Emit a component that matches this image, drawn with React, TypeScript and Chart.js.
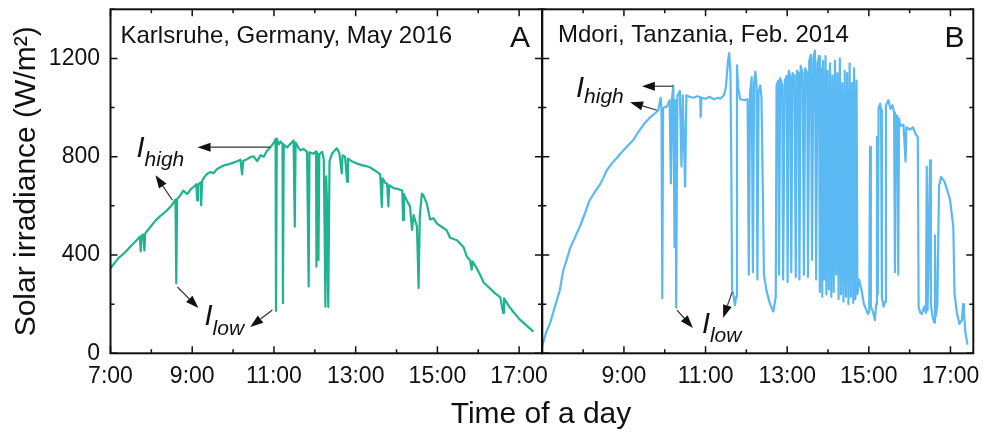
import React, { useEffect, useRef } from 'react';
import { Chart, registerables } from 'chart.js';

Chart.register(...registerables);

// Panel A – Karlsruhe, Germany, May 2016 : [hour of day, solar irradiance W/m²]
const karlsruhe: [number, number][] = [
  [7.00, 345], [7.10, 368], [7.20, 388], [7.30, 402], [7.41, 420], [7.50, 437], [7.58, 450], [7.65, 462],
  [7.72, 475], [7.74, 415], [7.76, 478], [7.80, 484], [7.83, 418], [7.85, 488], [7.98, 515], [8.10, 540],
  [8.20, 556], [8.30, 570], [8.39, 583], [8.50, 603], [8.59, 625], [8.61, 285], [8.63, 628], [8.70, 640],
  [8.78, 662], [8.88, 648], [8.95, 665], [9.05, 680], [9.10, 688], [9.12, 622], [9.14, 686], [9.20, 695],
  [9.22, 602], [9.24, 700], [9.30, 718], [9.36, 730], [9.45, 738], [9.52, 733], [9.61, 750], [9.70, 758],
  [9.80, 766], [9.90, 770], [10.01, 776], [10.10, 782], [10.18, 788], [10.22, 728], [10.25, 784], [10.34, 790],
  [10.42, 798], [10.50, 802], [10.59, 782], [10.67, 806], [10.75, 800], [10.83, 824], [10.91, 838], [11.00, 858],
  [11.04, 872], [11.05, 172], [11.07, 874], [11.12, 850], [11.16, 862], [11.21, 852], [11.22, 204], [11.24, 850],
  [11.32, 838], [11.40, 852], [11.48, 866], [11.51, 515], [11.53, 858], [11.60, 836], [11.65, 826], [11.72, 832],
  [11.81, 820], [11.85, 272], [11.87, 818], [11.97, 812], [12.03, 822], [12.04, 352], [12.06, 816], [12.09, 380],
  [12.11, 810], [12.18, 820], [12.22, 790], [12.26, 190], [12.28, 720], [12.30, 600], [12.33, 188], [12.36, 782],
  [12.42, 812], [12.50, 828], [12.54, 834], [12.60, 815], [12.66, 732], [12.68, 806], [12.74, 800], [12.79, 698],
  [12.81, 792], [12.90, 782], [13.03, 772], [13.15, 766], [13.25, 762], [13.36, 756], [13.45, 746], [13.52, 738],
  [13.60, 728], [13.64, 596], [13.66, 712], [13.72, 694], [13.77, 690], [13.80, 598], [13.82, 684], [13.93, 672],
  [14.05, 668], [14.14, 662], [14.16, 542], [14.18, 648], [14.25, 622], [14.33, 598], [14.38, 502], [14.42, 562],
  [14.50, 515], [14.54, 266], [14.57, 560], [14.62, 650], [14.66, 642], [14.74, 610], [14.82, 545], [14.90, 550],
  [14.99, 528], [15.10, 515], [15.23, 500], [15.31, 470], [15.48, 460], [15.64, 432], [15.72, 394], [15.80, 378],
  [15.84, 340], [15.86, 374], [15.95, 350], [16.05, 318], [16.13, 288], [16.25, 270], [16.40, 246], [16.54, 228],
  [16.61, 164], [16.63, 224], [16.75, 192], [16.86, 168], [17.00, 140], [17.15, 118], [17.35, 88],
];

// Panel B – Mdori, Tanzania, Feb. 2014 : [hour of day, solar irradiance W/m²]
const mdori: [number, number][] = [
  [7.00, 30], [7.05, 60], [7.10, 88], [7.19, 122], [7.30, 185], [7.43, 257], [7.51, 335], [7.60, 382],
  [7.68, 427], [7.80, 472], [7.92, 515], [8.05, 572], [8.16, 623], [8.30, 660], [8.41, 686], [8.50, 716],
  [8.58, 745], [8.70, 772], [8.85, 800], [8.99, 826], [9.10, 846], [9.23, 868], [9.35, 900], [9.50, 935],
  [9.64, 960], [9.75, 975], [9.84, 988], [9.90, 1040], [9.92, 992], [9.94, 224], [9.96, 998], [10.05, 1004],
  [10.12, 1030], [10.15, 691], [10.18, 1040], [10.21, 1090], [10.24, 433], [10.26, 1030], [10.28, 186], [10.31, 1048],
  [10.37, 1068], [10.41, 760], [10.44, 1050], [10.50, 678], [10.53, 1050], [10.60, 1044], [10.70, 1040], [10.80, 1046],
  [10.87, 1042], [10.88, 962], [10.90, 1040], [11.00, 1036], [11.10, 1044], [11.20, 1034], [11.30, 1040], [11.36, 1036],
  [11.45, 1050], [11.50, 1085], [11.55, 1190], [11.58, 1222], [11.61, 1140], [11.63, 780], [11.65, 260], [11.68, 240],
  [11.72, 195], [11.75, 230], [11.77, 1172], [11.80, 1080], [11.85, 1034], [11.95, 1030], [12.03, 1034], [12.06, 320],
  [12.09, 1060], [12.13, 1124], [12.16, 330], [12.19, 1100], [12.22, 1146], [12.25, 1090], [12.27, 300], [12.30, 1064],
  [12.34, 1090], [12.37, 1040], [12.40, 700], [12.43, 320], [12.50, 250], [12.58, 200], [12.66, 170], [12.72, 230],
  [12.74, 1090], [12.78, 1110], [12.80, 320], [12.83, 1120], [12.88, 1090], [12.90, 300], [12.94, 1110], [12.99, 1130],
  [13.01, 290], [13.04, 1150], [13.08, 1120], [13.10, 330], [13.13, 1140], [13.18, 1130], [13.21, 310], [13.24, 1150],
  [13.28, 1140], [13.30, 300], [13.33, 1170], [13.38, 1140], [13.41, 320], [13.44, 1160], [13.49, 1140], [13.51, 310],
  [13.54, 1190], [13.58, 1215], [13.61, 380], [13.64, 1200], [13.68, 1232], [13.71, 300], [13.74, 1180], [13.78, 1210],
  [13.80, 250], [13.83, 1160], [13.86, 230], [13.88, 1190], [13.91, 300], [13.94, 1210], [13.96, 240], [13.99, 1150],
  [14.02, 260], [14.05, 1180], [14.08, 230], [14.11, 1130], [14.14, 250], [14.17, 1190], [14.20, 320], [14.23, 1140],
  [14.26, 220], [14.29, 1200], [14.32, 240], [14.35, 1100], [14.38, 210], [14.41, 1150], [14.44, 230], [14.47, 1140],
  [14.50, 200], [14.53, 1180], [14.56, 230], [14.59, 1100], [14.62, 205], [14.64, 1160], [14.67, 220], [14.70, 1110],
  [14.72, 240], [14.76, 300], [14.82, 260], [14.88, 200], [14.93, 180], [14.98, 160], [15.01, 170], [15.03, 840],
  [15.05, 190], [15.10, 170], [15.15, 135], [15.18, 200], [15.20, 880], [15.22, 240], [15.24, 1000], [15.28, 1016],
  [15.30, 990], [15.32, 230], [15.36, 190], [15.40, 210], [15.42, 1010], [15.48, 1030], [15.53, 995], [15.58, 1010],
  [15.62, 980], [15.64, 330], [15.66, 970], [15.70, 965], [15.72, 320], [15.74, 955], [15.77, 925], [15.85, 930],
  [15.90, 780], [15.92, 920], [16.01, 910], [16.08, 920], [16.15, 892], [16.20, 880], [16.22, 190], [16.26, 165],
  [16.30, 160], [16.36, 190], [16.40, 165], [16.42, 760], [16.44, 175], [16.50, 785], [16.52, 200], [16.56, 150],
  [16.60, 125], [16.62, 480], [16.64, 150], [16.68, 200], [16.72, 680], [16.77, 718], [16.85, 700], [16.92, 665],
  [16.99, 625], [17.07, 515], [17.10, 244], [17.16, 163], [17.22, 120], [17.28, 135], [17.31, 200], [17.33, 165],
  [17.37, 80], [17.42, 35],
];

const labelledHoursA = [7, 9, 11, 13, 15, 17];
const labelledHoursB = [9, 11, 13, 15, 17];
const labelledIrradiance = [0, 400, 800, 1200];

const TIME_MIN = 7;
const TIME_MAX = 17.56;
const IRR_MIN = 0;
const IRR_MAX = 1400;

const titleA = 'Karlsruhe, Germany, May 2016';
const titleB = 'Mdori, Tanzania, Feb. 2014';
const yTitle = 'Solar irradiance (W/m²)';
const xTitle = 'Time of a day';

const colorA = '#1fb390';
const colorB = '#5ab9f2';

const FONT = "'Liberation Sans', Arial, sans-serif";

type Note =
  | { type: 'text'; text: string; h: number; v: number; size: number; align: CanvasTextAlign }
  | { type: 'sym'; sub: string; h: number; v: number; dy: number }
  | { type: 'arrow'; h1: number; v1: number; h2: number; v2: number };

const notesA: Note[] = [
  { type: 'text', text: titleA, h: 7.245, v: 1263, size: 24, align: 'left' },
  { type: 'text', text: 'A', h: 17.02, v: 1246, size: 30, align: 'center' },
  { type: 'sym', sub: 'high', h: 7.636, v: 798, dy: 9 },
  { type: 'sym', sub: 'low', h: 9.3, v: 115, dy: 10 },
  { type: 'arrow', h1: 10.91, v1: 839, h2: 9.13, v2: 839 },
  { type: 'arrow', h1: 8.516, v1: 623, h2: 8.1, v2: 725 },
  { type: 'arrow', h1: 8.638, v1: 270, h2: 9.152, v2: 184 },
  { type: 'arrow', h1: 10.96, v1: 176, h2: 10.42, v2: 107 },
];

const notesB: Note[] = [
  { type: 'text', text: titleB, h: 7.385, v: 1265, size: 24, align: 'left' },
  { type: 'text', text: 'B', h: 17.1, v: 1246, size: 30, align: 'center' },
  { type: 'sym', sub: 'high', h: 7.826, v: 1042, dy: 6 },
  { type: 'sym', sub: 'low', h: 10.91, v: 83, dy: 9 },
  { type: 'arrow', h1: 10.203, v1: 1087, h2: 9.44, v2: 1087 },
  { type: 'arrow', h1: 9.81, v1: 989, h2: 9.15, v2: 1022 },
  { type: 'arrow', h1: 10.3, v1: 176, h2: 10.69, v2: 103 },
  { type: 'arrow', h1: 11.65, v1: 249, h2: 11.43, v2: 144 },
];

const decorPlugin = {
  id: 'decor',
  afterDatasetsDraw(chart: any, _args: any, opts: any) {
    const { ctx, chartArea, scales } = chart;
    const { left, right, top, bottom } = chartArea;
    const xs = scales.x;
    const ys = scales.y;
    ctx.save();
    ctx.strokeStyle = '#111';
    ctx.lineWidth = 1.5;
    ctx.beginPath();
    xs.ticks.forEach((t: any) => {
      const px = xs.getPixelForValue(t.value);
      const len = t.value % 2 === 1 ? 7 : 4;
      ctx.moveTo(px, bottom);
      ctx.lineTo(px, bottom - len);
      ctx.moveTo(px, top);
      ctx.lineTo(px, top + len);
    });
    ys.ticks.forEach((t: any) => {
      const py = ys.getPixelForValue(t.value);
      const len = t.value % 400 === 0 ? 7 : 4;
      ctx.moveTo(left, py);
      ctx.lineTo(left + len, py);
      ctx.moveTo(right, py);
      ctx.lineTo(right - len, py);
    });
    ctx.stroke();
    ctx.lineWidth = 2;
    ctx.strokeRect(left, top, right - left, bottom - top);

    const notes: Note[] = opts.notes || [];
    ctx.textBaseline = 'alphabetic';
    for (const n of notes) {
      ctx.fillStyle = '#111';
      if (n.type === 'text') {
        ctx.font = `${n.size}px ${FONT}`;
        ctx.textAlign = n.align;
        ctx.fillText(n.text, xs.getPixelForValue(n.h), ys.getPixelForValue(n.v));
      } else if (n.type === 'sym') {
        const px = xs.getPixelForValue(n.h);
        const py = ys.getPixelForValue(n.v);
        ctx.textAlign = 'left';
        ctx.font = `italic 29px ${FONT}`;
        ctx.fillText('I', px, py);
        const w = ctx.measureText('I').width;
        ctx.font = `italic 21px ${FONT}`;
        ctx.fillText(n.sub, px + w, py + n.dy);
      } else {
        const x1 = xs.getPixelForValue(n.h1);
        const y1 = ys.getPixelForValue(n.v1);
        const x2 = xs.getPixelForValue(n.h2);
        const y2 = ys.getPixelForValue(n.v2);
        const ang = Math.atan2(y2 - y1, x2 - x1);
        const L = 13;
        const W = 4.5;
        const bx = x2 - L * Math.cos(ang);
        const by = y2 - L * Math.sin(ang);
        ctx.strokeStyle = '#333';
        ctx.lineWidth = 1.2;
        ctx.beginPath();
        ctx.moveTo(x1, y1);
        ctx.lineTo(bx, by);
        ctx.stroke();
        ctx.beginPath();
        ctx.moveTo(x2, y2);
        ctx.lineTo(bx + W * Math.sin(ang), by - W * Math.cos(ang));
        ctx.lineTo(bx - W * Math.sin(ang), by + W * Math.cos(ang));
        ctx.closePath();
        ctx.fill();
      }
    }
    ctx.restore();
  },
};

function makeChart(
  canvas: HTMLCanvasElement,
  series: [number, number][],
  color: string,
  notes: Note[],
  labelledHours: number[],
  showY: boolean,
  padding: { left: number; right: number; top: number; bottom: number }
) {
  return new Chart(canvas, {
    type: 'line',
    data: {
      datasets: [
        {
          data: series.map(([h, v]) => ({ x: h, y: v })),
          borderColor: color,
          borderWidth: 2.2,
          pointRadius: 0,
          tension: 0,
          borderJoinStyle: 'round',
          fill: false,
        },
      ],
    },
    plugins: [decorPlugin],
    options: {
      responsive: false,
      animation: false,
      devicePixelRatio: 1,
      layout: { padding },
      plugins: {
        legend: { display: false },
        tooltip: { enabled: false },
        decor: { notes },
      } as any,
      scales: {
        x: {
          type: 'linear',
          min: TIME_MIN,
          max: TIME_MAX,
          grid: { display: false, drawTicks: false },
          border: { display: false },
          ticks: {
            stepSize: 1,
            autoSkip: false,
            includeBounds: false,
            maxRotation: 0,
            padding: 10,
            color: '#111',
            font: { family: FONT, size: 23 },
            callback: (value: any) => (labelledHours.includes(Number(value)) ? `${value}:00` : ''),
          },
          afterFit: (scale: any) => {
            scale.height = 83.7;
            scale.paddingLeft = 0;
            scale.paddingRight = 0;
          },
        },
        y: {
          type: 'linear',
          display: showY,
          min: IRR_MIN,
          max: IRR_MAX,
          grid: { display: false, drawTicks: false },
          border: { display: false },
          title: {
            display: true,
            text: yTitle,
            color: '#111',
            font: { family: FONT, size: 30 },
            padding: { top: 9, bottom: 0 },
          },
          ticks: {
            stepSize: 200,
            autoSkip: false,
            padding: 10.5,
            color: '#111',
            font: { family: FONT, size: 23 },
            callback: (value: any) => (labelledIrradiance.includes(Number(value)) ? String(value) : ''),
          },
          afterFit: (scale: any) => {
            scale.width = showY ? 110.5 : 0;
            scale.paddingTop = 0;
            scale.paddingBottom = 0;
          },
        },
      },
    } as any,
  });
}

export default function App() {
  const refA = useRef<HTMLCanvasElement>(null);
  const refB = useRef<HTMLCanvasElement>(null);

  useEffect(() => {
    const a = makeChart(refA.current!, karlsruhe, colorA, notesA, labelledHoursA, true, {
      left: 0,
      right: 18,
      top: 9.3,
      bottom: 0,
    });
    const b = makeChart(refB.current!, mdori, colorB, notesB, labelledHoursB, false, {
      left: 22.3,
      right: 9.7,
      top: 9.3,
      bottom: 0,
    });
    return () => {
      a.destroy();
      b.destroy();
    };
  }, []);

  return (
    <div style={{ position: 'absolute', left: 0, top: 0, width: 983, height: 437, background: '#fff', overflow: 'hidden' }}>
      <canvas ref={refA} width={560} height={437} style={{ position: 'absolute', left: 0, top: 0 }} />
      <canvas ref={refB} width={463} height={437} style={{ position: 'absolute', left: 520, top: 0 }} />
      <div
        style={{
          position: 'absolute',
          left: 341,
          width: 400,
          top: 398,
          textAlign: 'center',
          fontFamily: FONT,
          fontSize: 30,
          lineHeight: '30px',
          color: '#111',
          whiteSpace: 'nowrap',
        }}
      >
        {xTitle}
      </div>
    </div>
  );
}
